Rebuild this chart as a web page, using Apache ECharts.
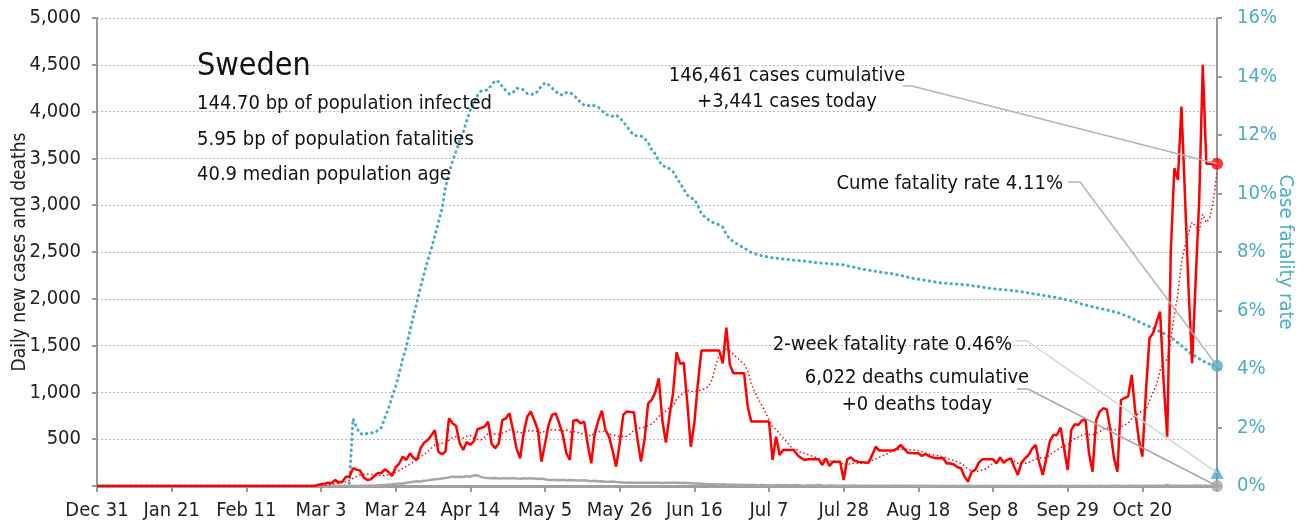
<!DOCTYPE html>
<html>
<head>
<meta charset="utf-8">
<title>Sweden</title>
<script src="https://cdn.jsdelivr.net/npm/echarts@6/dist/echarts.min.js"></script>
<style>
  html, body { margin: 0; padding: 0; background: #fff; }
  #chart { width: 1308px; height: 526px; }
</style>
</head>
<body>
<div id="chart"></div>
<script>
// x axis tick labels, one every 21 days starting Dec 31
var tickLabels = ['Dec 31', 'Jan 21', 'Feb 11', 'Mar 3', 'Mar 24', 'Apr 14', 'May 5', 'May 26',
  'Jun 16', 'Jul 7', 'Jul 28', 'Aug 18', 'Sep 8', 'Sep 29', 'Oct 20'];

// daily new cases, Dec 31 .. Nov 10
var cases = [
  0,0,0,0,0,0,0,0,0,0, 0,0,0,0,0,0,0,0,0,0, 0,0,0,0,0,0,0,0,0,0,
  0,0,0,0,0,0,0,0,0,0, 0,0,0,0,0,0,0,0,0,0, 0,0,0,0,0,0,0,0,0,0,
  0,0,10,20,25,36,30,64,36,46, 100,100,190,175,165,90,64,71,107,140,
  140,178,150,107,200,240,314,278,349,300, 278,403,463,492,540,595,367,340,367,723,
  670,641,460,385,470,440,480,606,620,634, 688,450,403,456,705,723,777,600,400,296,
  563,741,795,700,599,260,450,652,759,777, 670,550,350,278,700,705,670,688,450,242,
  563,700,805,599,527,380,207,450,759,795, 790,787,500,260,500,880,919,1000,1151,700,
  463,750,990,1429,1304,1318,900,420,670,1100, 1447,1447,1447,1447,1447,1447,1311,1692,1293,1204,
  1204,1204,1204,850,688,688,688,688,688,688, 278,527,331,385,385,385,385,330,300,278,
  285,285,285,285,224,296,214,260,260,260, 64,285,306,270,260,255,250,249,330,420,
  378,378,378,378,378,400,438,400,356,352, 350,349,321,342,320,306,296,296,296,240,
  242,230,200,189,100,46,153,171,250,285, 285,285,285,242,306,249,280,296,200,118,
  250,296,331,400,438,250,118,300,480,545, 545,624,400,171,599,660,652,700,713,350,
  153,700,795,830,819,600,300,153,919,940, 955,1186,800,500,314,1000,1578,1632,1750,1863,
  1100,527,2500,3395,3271,4055,3100,2100,1311,2200, 3057,4500,3442,3442,3442,3442
];

// daily deaths
var deaths = [
  0,0,0,0,0,0,0,0,0,0, 0,0,0,0,0,0,0,0,0,0, 0,0,0,0,0,0,0,0,0,0,
  0,0,0,0,0,0,0,0,0,0, 0,0,0,0,0,0,0,0,0,0, 0,0,0,0,0,0,0,0,0,0,
  0,0,0,0,0,0,0,0,0,0, 0,1,1,0,2,3,2,5,4,8,
  10,12,15,18,22,28,25,35,40,45, 50,48,55,60,68,72,75,80,85,90,
  100,95,100,95,105,100,112,115,95,88, 85,82,85,80,84,82,80,85,80,78,
  82,80,84,80,76,80,72,65,66,64, 62,66,60,64,62,60,58,62,55,52,
  55,48,50,46,45,48,42,40,38,36, 38,36,34,36,35,34,36,34,35,32,
  34,36,34,35,33,34,32,30,28,26, 24,22,20,20,18,16,18,15,14,15,
  12,14,12,10,12,10,8,10,9,8, 6,10,8,7,8,6,9,10,6,4,
  8,6,5,10,4,3,5,6,4,3, 2,4,3,5,2,4,3,1,4,2,
  3,2,4,1,3,2,1,3,2,2, 1,2,0,3,1,2,0,1,2,1,
  0,2,1,0,1,2,0,1,1,0, 2,1,0,1,2,0,1,1,0,2,
  1,0,1,2,0,1,0,2,1,0, 1,2,0,1,0,2,1,0,1,2,
  0,1,2,0,1,3,0,2,1,0, 2,3,1,2,0,3,2,1,3,2,
  4,10,3,2,4,1,3,2,3,5, 2,4,3,1,2,0
];

// cumulative case fatality rate, percent
var cfr = [
  0,0,0,0,0,0,0,0,0,0, 0,0,0,0,0,0,0,0,0,0, 0,0,0,0,0,0,0,0,0,0,
  0,0,0,0,0,0,0,0,0,0, 0,0,0,0,0,0,0,0,0,0, 0,0,0,0,0,0,0,0,0,0,
  0,0,0,0,0,0,0,0,0,0, 0,0.1,2.3,2.0,1.8,1.75,1.8,1.82,1.82,1.9,
  2.0,2.35,2.65,3.05,3.4,3.85,4.35,4.75,5.3,5.8, 6.3,6.8,7.25,7.7,8.1,8.55,9.0,9.45,10.2,10.7,
  11.1,11.45,11.8,12.1,12.5,12.85,13.1,13.35,13.5,13.52, 13.55,13.72,13.86,13.82,13.65,13.52,13.4,13.45,13.6,13.58,
  13.54,13.42,13.4,13.39,13.5,13.68,13.78,13.72,13.6,13.5, 13.38,13.37,13.45,13.45,13.37,13.25,13.12,13.02,12.99,13.03,
  13.0,12.95,12.83,12.73,12.65,12.64,12.68,12.6,12.45,12.3, 12.12,12.0,11.97,11.97,11.88,11.75,11.5,11.35,11.12,10.95,
  10.92,10.85,10.75,10.55,10.35,10.15,9.95,9.85,9.8,9.6, 9.3,9.2,9.1,9.02,8.98,8.92,8.85,8.6,8.45,8.35,
  8.28,8.2,8.15,8.05,7.98,7.94,7.9,7.87,7.85,7.82, 7.8,7.79,7.78,7.76,7.75,7.74,7.72,7.71,7.7,7.69,
  7.67,7.66,7.64,7.63,7.62,7.61,7.6,7.59,7.58,7.57, 7.56,7.53,7.5,7.48,7.45,7.42,7.4,7.38,7.36,7.34,
  7.32,7.3,7.28,7.27,7.25,7.22,7.2,7.17,7.14,7.11, 7.09,7.07,7.05,7.03,7.01,6.99,6.97,6.95,6.94,6.93,
  6.92,6.91,6.9,6.89,6.88,6.87,6.85,6.83,6.82,6.8, 6.78,6.76,6.74,6.73,6.72,6.71,6.7,6.69,6.67,6.66,
  6.64,6.62,6.6,6.58,6.56,6.54,6.52,6.5,6.48,6.46, 6.44,6.41,6.38,6.36,6.33,6.3,6.26,6.22,6.19,6.16,
  6.13,6.1,6.07,6.05,6.02,5.99,5.96,5.93,5.89,5.84, 5.79,5.74,5.68,5.62,5.56,5.5,5.45,5.39,5.34,5.28,
  5.22,5.16,5.08,5.0,4.9,4.8,4.7,4.58,4.5,4.43, 4.35,4.28,4.2,4.17,4.14,4.11
];

var twoWeekRate = 0.46;

var FONT = '"Liberation Sans Narrow", "DejaVu Sans Condensed", sans-serif';
var BLUE = '#4BACC6', RED = '#FF0000', GREY = '#A6A6A6';

// category labels (dates) for each day
var months = ['Jan','Feb','Mar','Apr','May','Jun','Jul','Aug','Sep','Oct','Nov','Dec'];
var days = [];
for (var i = 0; i < cases.length; i++) {
  var d = new Date(Date.UTC(2019, 11, 31) + i * 86400000);
  days.push(months[d.getUTCMonth()] + ' ' + d.getUTCDate());
}

// 7-day trailing average of the daily cases
var avg7 = cases.map(function (v, i) {
  var s = 0, n = 0;
  for (var k = Math.max(0, i - 6); k <= i; k++) { s += cases[k]; n++; }
  return Math.round(s / n);
});

var last = cases.length - 1;
var every21 = function (i) { return i % 21 === 0; };

var myChart = echarts.init(document.getElementById('chart'));

var option = {
  animation: false,
  grid: { left: 97, right: 91, top: 18, bottom: 40, containLabel: false, outerBoundsMode: 'none' },
  xAxis: {
    type: 'category',
    data: days,
    boundaryGap: false,
    axisLine: { lineStyle: { color: '#a0a0a0', width: 3 } },
    axisTick: { interval: every21, length: 6, lineStyle: { color: '#999', width: 2 } },
    axisLabel: {
      interval: every21, margin: 15, color: '#222', fontSize: 20, fontFamily: FONT,
      formatter: function (v, i) { return tickLabels[i / 21]; }
    },
    splitLine: { show: false }
  },
  yAxis: [{
    type: 'value', min: 0, max: 5000, interval: 500,
    name: 'Daily new cases and deaths', nameLocation: 'middle', nameGap: 67, nameMoveOverlap: false,
    nameTextStyle: { color: '#222', fontSize: 19, fontFamily: FONT },
    axisLine: { show: true, lineStyle: { color: '#999', width: 2 } },
    axisTick: { show: true, length: 5, lineStyle: { color: '#999', width: 2 } },
    axisLabel: {
      margin: 16, color: '#222', fontSize: 20, fontFamily: FONT,
      formatter: function (v) { return v === 0 ? '' : v.toLocaleString('en-US'); }
    },
    splitLine: { lineStyle: { color: '#b8b8b8', type: [2, 2], width: 1 } }
  }, {
    type: 'value', min: 0, max: 16, interval: 2, position: 'right',
    name: 'Case fatality rate', nameLocation: 'middle', nameGap: 58, nameRotate: -90, nameMoveOverlap: false,
    nameTextStyle: { color: BLUE, fontSize: 20, fontFamily: FONT },
    axisLine: { show: true, lineStyle: { color: '#999', width: 2 } },
    axisTick: { show: true, length: 5, lineStyle: { color: '#999', width: 2 } },
    axisLabel: {
      margin: 20, color: BLUE, fontSize: 20, fontFamily: FONT,
      formatter: function (v) { return v + '%'; }
    },
    splitLine: { show: false }
  }],
  series: [
    { name: 'cfr', type: 'line', yAxisIndex: 1, data: cfr, showSymbol: false, z: 2,
      lineStyle: { color: BLUE, width: 3, type: [0.5, 5], cap: 'round' } },
    { name: 'deaths', type: 'line', data: deaths, showSymbol: false, z: 3,
      lineStyle: { color: GREY, width: 2.5 } },
    { name: 'avg', type: 'line', data: avg7, showSymbol: false, z: 4,
      lineStyle: { color: RED, width: 1.5, type: [1.5, 2.5] } },
    { name: 'cases', type: 'line', data: cases, showSymbol: false, z: 5,
      lineStyle: { color: RED, width: 2.5 } },
    { type: 'scatter', data: [[last, cases[last]]], symbol: 'circle', symbolSize: 12,
      itemStyle: { color: RED }, z: 10 },
    { type: 'scatter', yAxisIndex: 1, data: [[last, cfr[last]]], symbol: 'circle', symbolSize: 12,
      itemStyle: { color: BLUE }, z: 10 },
    { type: 'scatter', yAxisIndex: 1, data: [[last, twoWeekRate]], symbol: 'triangle', symbolSize: 13,
      itemStyle: { color: BLUE }, z: 10 },
    { type: 'scatter', data: [[last, deaths[last]]], symbol: 'circle', symbolSize: 12,
      itemStyle: { color: GREY }, z: 10 }
  ]
};
myChart.setOption(option);

function txt(s, x, y, size, align, color) {
  return { type: 'text', z: 20, style: {
    text: s, x: x, y: y, fill: color || '#111', font: size + 'px ' + FONT,
    textAlign: align || 'left', align: align || 'left', textVerticalAlign: 'middle', verticalAlign: 'middle'
  } };
}
function leader(x0, y0, x1, pt, color) {
  return { type: 'polyline', z: 15, silent: true,
    shape: { points: [[x0, y0], [x1, y0], pt] },
    style: { stroke: color, lineWidth: 1.5, fill: null } };
}

var pCases = myChart.convertToPixel({ xAxisIndex: 0, yAxisIndex: 0 }, [last, cases[last]]);
var pCfr = myChart.convertToPixel({ xAxisIndex: 0, yAxisIndex: 1 }, [last, cfr[last]]);
var pTwo = myChart.convertToPixel({ xAxisIndex: 0, yAxisIndex: 1 }, [last, twoWeekRate]);
var pDeaths = myChart.convertToPixel({ xAxisIndex: 0, yAxisIndex: 0 }, [last, deaths[last]]);

myChart.setOption({
  graphic: [
    txt('Sweden', 197, 67, 32),
    txt('144.70 bp of population infected', 197, 104, 20),
    txt('5.95 bp of population fatalities', 197, 140, 20),
    txt('40.9 median population age', 197, 175, 20),
    txt('146,461 cases cumulative', 787, 76, 20, 'center'),
    txt('+3,441 cases today', 787, 102, 20, 'center'),
    txt('Cume fatality rate 4.11%', 1063, 184, 20, 'right'),
    txt('2-week fatality rate 0.46%', 1012, 345, 20, 'right'),
    txt('6,022 deaths cumulative', 917, 378, 20, 'center'),
    txt('+0 deaths today', 917, 405, 20, 'center'),
    leader(903, 86, 912, pCases, '#b4b4b4'),
    leader(1068, 182, 1080, pCfr, '#b4b4b4'),
    leader(1016, 341, 1027, pTwo, '#d4d4d4'),
    leader(1017, 389, 1028, pDeaths, '#a8a8a8')
  ]
});
</script>
</body>
</html>
